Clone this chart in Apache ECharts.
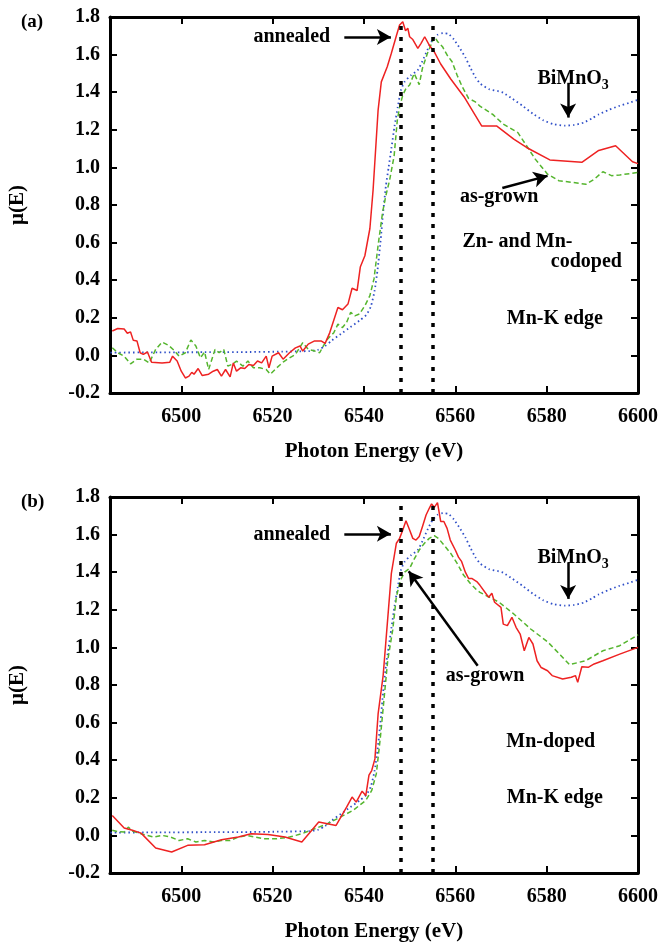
<!DOCTYPE html>
<html>
<head>
<meta charset="utf-8">
<script src="https://cdn.jsdelivr.net/npm/echarts@6/dist/echarts.min.js"></script>
<style>
  html, body { margin: 0; background: #fff; }
  #chart { width: 666px; height: 943px; }
</style>
</head>
<body>
<div id="chart"></div>
<script>
// Mn K-edge XANES, two panels: (a) Zn/Mn-codoped, (b) Mn-doped

// x axis (photon energy, eV)
const xMin = 6484.4
const xMax = 6600
const xTicks = [6500, 6520, 6540, 6560, 6580, 6600]
// edge markers (dotted vertical lines)
const edgeLines = [6548, 6555]

// panel (a) - annealed
const annealedA = [
  [6484.9, 0.13], [6486.1, 0.143], [6487.5, 0.14], [6488.2, 0.118], [6488.9, 0.125], [6489.5, 0.08],
  [6490.3, 0.077], [6491, 0.014], [6491.7, 0.005], [6492.6, 0.018], [6493.5, -0.036], [6495.8, -0.04],
  [6497.5, -0.036], [6498.1, -0.004], [6499.1, -0.03], [6500, -0.084], [6500.9, -0.12], [6501.7, -0.11],
  [6502.3, -0.09], [6502.8, -0.1], [6503.7, -0.07], [6504.6, -0.107], [6506, -0.1], [6507, -0.084],
  [6507.9, -0.075], [6508.8, -0.11], [6509.7, -0.075], [6510.7, -0.114], [6511.4, -0.04], [6512.1, -0.084],
  [6513, -0.066], [6513.9, -0.07], [6514.8, -0.048], [6515.8, -0.054], [6516.7, -0.03], [6517.6, -0.04],
  [6518.6, -0.004], [6519.2, -0.066], [6519.9, -0.004], [6521.3, 0.014], [6522.3, -0.02], [6523.7, 0.014],
  [6525, 0.04], [6526, 0.05], [6526.6, 0.023], [6527.8, 0.06], [6529.2, 0.077], [6530.6, 0.077],
  [6531.5, 0.064], [6532.5, 0.12], [6534.3, 0.255], [6535.3, 0.243], [6536.5, 0.273], [6537.4, 0.357],
  [6538.5, 0.345], [6539.2, 0.47], [6540.2, 0.53], [6541.3, 0.675], [6542, 0.88], [6543.1, 1.305],
  [6543.8, 1.455], [6545.1, 1.535], [6546, 1.607], [6547.1, 1.7], [6547.8, 1.757], [6548.5, 1.775],
  [6549.1, 1.727], [6549.6, 1.74], [6550, 1.695], [6550.7, 1.68], [6551.8, 1.633], [6552.5, 1.66],
  [6553.3, 1.695], [6554.3, 1.65], [6555.4, 1.615], [6556.8, 1.55], [6559, 1.47], [6561.9, 1.376],
  [6565.8, 1.22], [6569.1, 1.22], [6572.8, 1.15], [6575.6, 1.106], [6580.7, 1.04], [6587.7, 1.027],
  [6591.4, 1.09], [6595.1, 1.115], [6598.8, 1.03], [6600, 1.02]
]

// panel (a) - as-grown
const asGrownA = [
  [6484.9, 0.041], [6486.1, 0.014], [6487.5, -0.004], [6488.9, -0.045], [6490.3, -0.02], [6491.7, -0.02],
  [6493, -0.04], [6494.4, 0.032], [6495.8, 0.071], [6497.2, 0.054], [6498.6, 0.023], [6499.5, -0.004],
  [6500.9, 0.014], [6502.1, 0.082], [6503.2, 0.05], [6504.2, -0.013], [6505.1, 0.018], [6506, -0.075],
  [6507.4, 0.032], [6508.3, 0.014], [6509.3, 0.032], [6510.2, -0.057], [6511.1, -0.048], [6512.1, -0.03],
  [6513.5, -0.057], [6514.6, -0.03], [6515.8, -0.066], [6517.2, -0.066], [6518.6, -0.075], [6519.5, -0.1],
  [6520.9, -0.066], [6522.3, -0.036], [6523.7, -0.013], [6525, 0.005], [6526.6, 0.068], [6527.8, 0.032],
  [6529.2, 0.023], [6530.3, 0.014], [6531.1, 0.05], [6532, 0.086], [6533.4, 0.121], [6534.3, 0.166],
  [6535.3, 0.148], [6536.2, 0.175], [6537.1, 0.229], [6538, 0.21], [6539, 0.22], [6540.2, 0.264],
  [6541.3, 0.318], [6542.2, 0.407], [6543.1, 0.586], [6544.1, 0.764], [6544.8, 0.85], [6545.6, 0.93],
  [6546.6, 1.06], [6547.3, 1.25], [6547.8, 1.32], [6548.5, 1.385], [6549.2, 1.42], [6550, 1.438],
  [6551, 1.5], [6551.4, 1.51], [6552.1, 1.44], [6552.8, 1.527], [6553.9, 1.607], [6555, 1.67],
  [6555.5, 1.695], [6556.1, 1.67], [6557.2, 1.642], [6558.2, 1.598], [6559.3, 1.562], [6560.4, 1.49],
  [6561.5, 1.43], [6562.9, 1.367], [6564.3, 1.35], [6565.4, 1.326], [6568.2, 1.282], [6570.5, 1.23],
  [6573.7, 1.185], [6575.6, 1.115], [6577.5, 1.044], [6580.2, 0.964], [6582.7, 0.929], [6585.8, 0.92],
  [6588.6, 0.91], [6590.4, 0.937], [6592.3, 0.977], [6594.2, 0.956], [6596, 0.96], [6600, 0.973]
]

// panel (b) - annealed
const annealedB = [
  [6484.9, 0.106], [6487.5, 0.039], [6489.3, 0.027], [6491.2, 0.012], [6494.4, -0.067], [6497.9, -0.088],
  [6501.4, -0.053], [6505.1, -0.05], [6508.8, -0.023], [6512.5, -0.009], [6515.3, 0.009], [6519, 0.005],
  [6522.7, -0.009], [6526.4, -0.035], [6530.1, 0.071], [6533.9, 0.053], [6536.2, 0.15], [6537.4, 0.204],
  [6538.3, 0.177], [6539.6, 0.235], [6540.4, 0.212], [6541.1, 0.32], [6541.7, 0.345], [6542.4, 0.407],
  [6543.1, 0.646], [6544.2, 0.85], [6546, 1.394], [6547.1, 1.554], [6547.8, 1.58], [6548.5, 1.624],
  [6549.2, 1.674], [6550, 1.624], [6550.7, 1.58], [6551.4, 1.571], [6552.1, 1.59], [6552.8, 1.642],
  [6553.6, 1.704], [6554.3, 1.74], [6554.8, 1.763], [6555.4, 1.745], [6556.1, 1.77], [6556.8, 1.67],
  [6557.5, 1.67], [6558.2, 1.633], [6558.9, 1.571], [6560, 1.518], [6560.7, 1.48], [6561.4, 1.456],
  [6562.2, 1.4], [6562.9, 1.367], [6563.6, 1.367], [6564.7, 1.35], [6565.4, 1.33], [6567.3, 1.267],
  [6568, 1.288], [6568.6, 1.24], [6570, 1.213], [6570.5, 1.124], [6571.4, 1.116], [6572.4, 1.16],
  [6573.3, 1.107], [6574.2, 1.071], [6575.1, 0.982], [6576.1, 1.053], [6577, 1.018], [6577.9, 0.929],
  [6578.8, 0.893], [6580.2, 0.876], [6581.2, 0.85], [6583.5, 0.832], [6585.4, 0.841], [6586.3, 0.85],
  [6586.8, 0.814], [6587.7, 0.897], [6589.1, 0.894], [6590.4, 0.912], [6592.3, 0.929], [6596, 0.964],
  [6600, 1.0]
]

// panel (b) - as-grown
const asGrownB = [
  [6484.9, 0.027], [6486, 0.02], [6487.5, 0.018], [6488.4, 0.044], [6489.3, 0.023], [6491.2, 0.009],
  [6492.5, 0.0], [6494, -0.009], [6495.8, 0], [6497.7, -0.009], [6499.5, -0.027], [6501.4, -0.018],
  [6503.2, -0.035], [6505.1, -0.027], [6507, -0.035], [6508.8, -0.027], [6510.7, -0.027], [6512.5, -0.009],
  [6514.4, 0], [6516.2, -0.009], [6518.1, -0.018], [6520.9, -0.018], [6523.7, -0.009], [6526.4, 0.009],
  [6529.2, 0.035], [6532, 0.062], [6534.8, 0.097], [6537.6, 0.133], [6540.4, 0.186], [6541.7, 0.239],
  [6542.7, 0.327], [6543.6, 0.522], [6544.5, 0.752], [6545.2, 0.93], [6546.3, 1.093], [6547.1, 1.27],
  [6548, 1.358], [6548.9, 1.4], [6550, 1.42], [6550.9, 1.465], [6552.1, 1.518], [6553.2, 1.553],
  [6554.3, 1.58], [6555.4, 1.594], [6556.3, 1.58], [6557.5, 1.545], [6559, 1.5], [6560.4, 1.447],
  [6561.8, 1.385], [6563.3, 1.34], [6564.7, 1.305], [6565.4, 1.293], [6569.6, 1.24], [6572.8, 1.178],
  [6576.5, 1.098], [6580.2, 1.03], [6583, 0.96], [6585, 0.908], [6588.6, 0.93], [6592.3, 0.982],
  [6596, 1.009], [6600, 1.067]
]

// BiMnO3 reference (same in both panels)
const bimno3 = [
  [6484.5, 0.015], [6495, 0.016], [6505, 0.017], [6515, 0.018], [6522, 0.02], [6528, 0.023],
  [6530, 0.03], [6531.5, 0.05], [6533, 0.08], [6535, 0.115], [6537, 0.15], [6539, 0.185],
  [6540.5, 0.215], [6541.5, 0.26], [6542.3, 0.34], [6543, 0.46], [6543.6, 0.6], [6544.2, 0.76],
  [6544.8, 0.9], [6545.4, 1.0], [6546, 1.1], [6546.7, 1.22], [6547.4, 1.32], [6548.1, 1.41],
  [6548.9, 1.456], [6550.3, 1.49], [6551.8, 1.518], [6552.8, 1.565], [6553.9, 1.625], [6555, 1.677],
  [6556.1, 1.705], [6557.3, 1.714], [6558.5, 1.71], [6559.7, 1.68], [6561.1, 1.63], [6562.2, 1.585],
  [6563.3, 1.53], [6564.4, 1.48], [6565.5, 1.445], [6567.5, 1.415], [6569.5, 1.405], [6570.5, 1.397],
  [6572.5, 1.365], [6574.7, 1.328], [6577, 1.285], [6579.3, 1.25], [6581.5, 1.23], [6584, 1.222],
  [6586, 1.226], [6588.1, 1.238], [6590, 1.262], [6591.4, 1.282], [6593.5, 1.305], [6596, 1.328],
  [6598, 1.343], [6600, 1.36]
]

// annotation texts [label, x, y] in data units
const textsA = [
  ['annealed', 6524.2, 1.694],
  ['{a|BiMnO}{s|3}', 6585.8, 1.47],
  ['as-grown', 6569.6, 0.845],
  ['Zn- and Mn-', 6573.6, 0.604],
  ['codoped', 6588.7, 0.5],
  ['Mn-K edge', 6581.8, 0.193]
]
const textsB = [
  ['annealed', 6524.2, 1.6],
  ['{a|BiMnO}{s|3}', 6585.8, 1.476],
  ['as-grown', 6566.5, 0.85],
  ['Mn-doped', 6580.9, 0.496],
  ['Mn-K edge', 6581.8, 0.198]
]
// arrows [x1, y1, x2, y2] (tail -> head)
const arrowsA = [
  [6535.7, 1.694, 6545.9, 1.694],
  [6584.7, 1.45, 6584.7, 1.265],
  [6570.3, 0.89, 6580.2, 0.955]
]
const arrowsB = [
  [6535.7, 1.604, 6545.9, 1.604],
  [6584.7, 1.453, 6584.7, 1.258],
  [6564.9, 0.902, 6549.8, 1.405]
]

const font = 'Liberation Serif'
const red = '#ee2222'
const green = '#55b52e'
const blue = '#2f4fc8'

const chart = echarts.init(document.getElementById('chart'))

const grids = [
  { left: 110, top: 17, width: 528, height: 376, outerBoundsMode: 'none' },
  { left: 110, top: 497, width: 528, height: 376, outerBoundsMode: 'none' }
]

function xAxis(gi, pos) {
  const main = pos === 'bottom'
  return {
    type: 'value', gridIndex: gi, position: pos, min: xMin, max: xMax,
    name: main ? 'Photon Energy (eV)' : '',
    nameLocation: 'middle', nameGap: 48,
    nameTextStyle: { fontFamily: font, fontWeight: 'bold', fontSize: 21, color: '#000' },
    axisLine: { show: true, onZero: false, lineStyle: { color: '#000', width: 3 } },
    axisTick: { show: true, inside: true, length: 7, customValues: xTicks, lineStyle: { color: '#000', width: 2 } },
    axisLabel: main
      ? { show: true, customValues: xTicks, margin: 14, fontFamily: font, fontWeight: 'bold', fontSize: 20, color: '#000',
          formatter: v => String(v) }
      : { show: false },
    splitLine: { show: false }
  }
}

function yAxis(gi, pos) {
  const main = pos === 'left'
  return {
    type: 'value', gridIndex: gi, position: pos, min: -0.2, max: 1.8, interval: 0.2,
    name: main ? 'μ(E)' : '',
    nameLocation: 'middle', nameGap: 82, nameRotate: 90,
    nameTextStyle: { fontFamily: font, fontWeight: 'bold', fontSize: 21, color: '#000' },
    axisLine: { show: true, onZero: false, lineStyle: { color: '#000', width: 3 } },
    axisTick: { show: true, inside: true, length: 7, lineStyle: { color: '#000', width: 2 } },
    axisLabel: main
      ? { show: true, margin: 10, fontFamily: font, fontWeight: 'bold', fontSize: 20, color: '#000',
          formatter: v => v.toFixed(1) }
      : { show: false },
    splitLine: { show: false }
  }
}

function textMarks(list) {
  return {
    symbol: 'circle', symbolSize: 1, silent: true,
    itemStyle: { color: 'rgba(0,0,0,0)' },
    label: {
      show: true, position: 'inside', color: '#000',
      fontFamily: font, fontWeight: 'bold', fontSize: 20,
      formatter: p => p.name,
      rich: {
        a: { fontFamily: font, fontWeight: 'bold', fontSize: 20, color: '#000' },
        s: { fontFamily: font, fontWeight: 'bold', fontSize: 14, color: '#000', padding: [12, 0, 0, 0] }
      }
    },
    data: list.map(t => ({ name: t[0], coord: [t[1], t[2]] }))
  }
}

function arrowMarks(list) {
  return {
    silent: true, symbol: ['none', 'arrow'], symbolSize: [12, 14],
    label: { show: false },
    lineStyle: { color: '#000', width: 2.5, type: 'solid' },
    data: list.map(a => [{ coord: [a[0], a[1]] }, { coord: [a[2], a[3]] }])
  }
}

function edgeMarks() {
  return {
    silent: true, symbol: 'none',
    label: { show: false },
    lineStyle: { color: '#000', width: 3.5, type: [4, 7] },
    data: edgeLines.map(v => ({ xAxis: v }))
  }
}

function panel(gi, annealed, asGrown, texts, arrows) {
  return [
    {
      name: 'BiMnO3', type: 'line', xAxisIndex: gi, yAxisIndex: gi, data: bimno3,
      showSymbol: false, smooth: 0.2,
      lineStyle: { color: blue, width: 1.8, type: [1.5, 3] },
      markPoint: textMarks(texts), z: 3
    },
    {
      name: 'as-grown', type: 'line', xAxisIndex: gi, yAxisIndex: gi, data: asGrown,
      showSymbol: false,
      lineStyle: { color: green, width: 1.5, type: [5, 3] },
      markLine: edgeMarks(), z: 3
    },
    {
      name: 'annealed', type: 'line', xAxisIndex: gi, yAxisIndex: gi, data: annealed,
      showSymbol: false,
      lineStyle: { color: red, width: 1.5 },
      markLine: arrowMarks(arrows), z: 4
    }
  ]
}

const option = {
  animation: false,
  backgroundColor: '#fff',
  title: [
    { text: '(a)', left: 16, top: 8, textStyle: { fontFamily: font, fontWeight: 'bold', fontSize: 19, color: '#000' } },
    { text: '(b)', left: 16, top: 488, textStyle: { fontFamily: font, fontWeight: 'bold', fontSize: 19, color: '#000' } }
  ],
  grid: grids,
  xAxis: [xAxis(0, 'bottom'), xAxis(1, 'bottom'), xAxis(0, 'top'), xAxis(1, 'top')],
  yAxis: [yAxis(0, 'left'), yAxis(1, 'left'), yAxis(0, 'right'), yAxis(1, 'right')],
  series: [
    ...panel(0, annealedA, asGrownA, textsA, arrowsA),
    ...panel(1, annealedB, asGrownB, textsB, arrowsB)
  ]
}

chart.setOption(option)
</script>
</body>
</html>
